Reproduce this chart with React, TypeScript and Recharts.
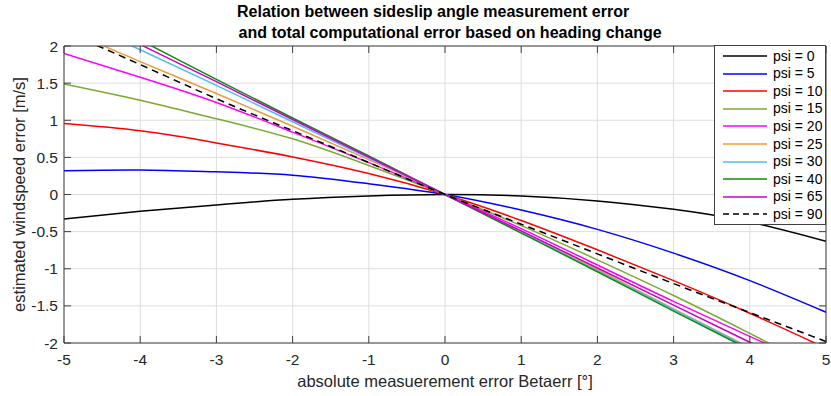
import React from 'react';
import { LineChart, Line, XAxis, YAxis, CartesianGrid, Legend } from 'recharts';

// absolute sideslip angle measurement error Betaerr [°]
const betaErr = [-5, -4, -3, -2, -1, 0, 1, 2, 3, 4, 5];

// estimated windspeed error [m/s] for each heading change psi
const psi0 = [-0.33, -0.227, -0.14, -0.065, -0.02, 0, -0.02, -0.086, -0.2, -0.37, -0.63];
const psi5 = [0.32, 0.33, 0.305, 0.26, 0.145, 0, -0.21, -0.47, -0.79, -1.16, -1.585];
const psi10 = [0.955, 0.857, 0.695, 0.506, 0.283, 0, -0.35, -0.745, -1.16, -1.6, -2.07];
const psi15 = [1.49, 1.27, 1.02, 0.75, 0.39, 0, -0.42, -0.88, -1.36, -1.87, -2.4];
const psi20 = [1.9, 1.58, 1.24, 0.84, 0.43, 0, -0.46, -0.95, -1.44, -1.91, -2.38];
const psi25 = [2.23, 1.79, 1.36, 0.92, 0.47, 0, -0.5, -1.01, -1.54, -2.06, -2.6];
const psi30 = [2.42, 1.95, 1.47, 0.98, 0.49, 0, -0.51, -1.03, -1.55, -2.07, -2.58];
const psi40 = [2.6, 2.08, 1.55, 1.03, 0.52, 0, -0.52, -1.04, -1.57, -2.09, -2.61];
const psi65 = [2.52, 2.02, 1.52, 1.01, 0.505, 0, -0.49, -0.99, -1.49, -1.99, -2.49];
const psi90 = [2.2, 1.75, 1.29, 0.86, 0.43, 0, -0.4, -0.8, -1.2, -1.59, -1.98];

const xTicks = [-5, -4, -3, -2, -1, 0, 1, 2, 3, 4, 5];
const yTicks = [-2, -1.5, -1, -0.5, 0, 0.5, 1, 1.5, 2];

const titleLines = [
  'Relation between sideslip angle measurement error',
  'and total computational error based on heading change',
];
const xLabel = 'absolute measuerement error Betaerr [°]';
const yLabel = 'estimated windspeed error [m/s]';

const series = [
  { key: 'psi0', name: 'psi = 0', values: psi0, color: '#000000', dash: undefined as string | undefined },
  { key: 'psi5', name: 'psi = 5', values: psi5, color: '#0000FF', dash: undefined },
  { key: 'psi10', name: 'psi = 10', values: psi10, color: '#FF0000', dash: undefined },
  { key: 'psi15', name: 'psi = 15', values: psi15, color: '#77AC30', dash: undefined },
  { key: 'psi20', name: 'psi = 20', values: psi20, color: '#FF00FF', dash: undefined },
  { key: 'psi25', name: 'psi = 25', values: psi25, color: '#EE9A3A', dash: undefined },
  { key: 'psi30', name: 'psi = 30', values: psi30, color: '#4DBEEE', dash: undefined },
  { key: 'psi40', name: 'psi = 40', values: psi40, color: '#0C8C0C', dash: undefined },
  { key: 'psi65', name: 'psi = 65', values: psi65, color: '#C800C8', dash: undefined },
  { key: 'psi90', name: 'psi = 90', values: psi90, color: '#000000', dash: '7 5' },
];

const data = betaErr.map((x, i) => {
  const row: Record<string, number> = { x };
  series.forEach((s) => {
    row[s.key] = s.values[i];
  });
  return row;
});

const FONT = '"Liberation Sans", Arial, Helvetica, sans-serif';
const AXIS_COLOR = '#404040';
const TEXT_COLOR = '#262626';
const TICK_LEN = 7;

const LeftTick = (props: any) => {
  const { x, y, payload } = props;
  return (
    <g>
      <line x1={x} x2={x + TICK_LEN} y1={y} y2={y} stroke={AXIS_COLOR} strokeWidth={1} />
      <text x={x - 6} y={y + 5.6} textAnchor="end" fontFamily={FONT} fontSize={15.5} fill={TEXT_COLOR}>
        {String(payload.value)}
      </text>
    </g>
  );
};

const BottomTick = (props: any) => {
  const { x, y, payload } = props;
  return (
    <g>
      <line x1={x} x2={x} y1={y} y2={y - TICK_LEN} stroke={AXIS_COLOR} strokeWidth={1} />
      <text x={x} y={y + 21.5} textAnchor="middle" fontFamily={FONT} fontSize={15.5} fill={TEXT_COLOR}>
        {String(payload.value)}
      </text>
    </g>
  );
};

const TopTick = (props: any) => {
  const { x, y } = props;
  return <line x1={x} x2={x} y1={y} y2={y + TICK_LEN} stroke={AXIS_COLOR} strokeWidth={1} />;
};

const RightTick = (props: any) => {
  const { x, y } = props;
  return <line x1={x} x2={x - TICK_LEN} y1={y} y2={y} stroke={AXIS_COLOR} strokeWidth={1} />;
};

const XLabel = (props: any) => {
  const vb = props.viewBox || {};
  return (
    <text x={vb.x + vb.width / 2} y={vb.y + 43.5} textAnchor="middle" fontFamily={FONT} fontSize={16.5} fill={TEXT_COLOR}>
      {xLabel}
    </text>
  );
};

const YLabel = (props: any) => {
  const vb = props.viewBox || {};
  const cy = vb.y + vb.height / 2;
  return (
    <text transform={`translate(25, ${cy}) rotate(-90)`} x={0} y={0} textAnchor="middle" fontFamily={FONT} fontSize={16.5} fill={TEXT_COLOR}>
      {yLabel}
    </text>
  );
};

const LegendBox = () => (
  <div
    style={{
      boxSizing: 'border-box',
      width: 112,
      height: 180,
      border: `1px solid ${AXIS_COLOR}`,
      background: '#fff',
      paddingTop: 1.5,
      fontFamily: FONT,
      fontSize: 14,
      color: '#000',
    }}
  >
    {series.map((s) => (
      <div key={s.key} style={{ display: 'flex', alignItems: 'center', height: 17.55 }}>
        <svg width={44} height={6} style={{ marginLeft: 8, marginRight: 6, display: 'block' }}>
          <line x1={0} x2={44} y1={3} y2={3} stroke={s.color} strokeWidth={1.5} strokeDasharray={s.dash ? '6 4' : undefined} />
        </svg>
        <span style={{ lineHeight: '17px', whiteSpace: 'nowrap' }}>{s.name}</span>
      </div>
    ))}
  </div>
);

export default function App() {
  return (
    <div style={{ position: 'absolute', left: 0, top: 0, width: 831, height: 396, background: '#fff' }}>
      <svg width={831} height={44} style={{ position: 'absolute', left: 0, top: 0 }}>
        <text x={237} y={16.5} textAnchor="start" fontFamily={FONT} fontSize={16} fontWeight="bold" fill="#000">
          {titleLines[0]}
        </text>
        <text x={238.5} y={38} textAnchor="start" fontFamily={FONT} fontSize={16} fontWeight="bold" fill="#000">
          {titleLines[1]}
        </text>
      </svg>
      <LineChart width={831} height={396} data={data} margin={{ top: 45, right: 4, bottom: 0, left: 0 }}>
        <CartesianGrid stroke="#dedede" strokeWidth={1} />
        <XAxis
          dataKey="x"
          type="number"
          domain={[-5, 5]}
          ticks={xTicks}
          allowDataOverflow
          height={53}
          tickSize={0}
          tickMargin={0}
          tickLine={false}
          axisLine={{ stroke: AXIS_COLOR, strokeWidth: 1 }}
          tick={BottomTick}
          interval={0}
          label={XLabel}
        />
        <XAxis
          xAxisId="top"
          orientation="top"
          dataKey="x"
          type="number"
          domain={[-5, 5]}
          ticks={xTicks}
          allowDataOverflow
          height={1}
          tickSize={0}
          tickMargin={0}
          tickLine={false}
          axisLine={{ stroke: AXIS_COLOR, strokeWidth: 1 }}
          tick={TopTick}
          interval={0}
        />
        <YAxis
          type="number"
          domain={[-2, 2]}
          ticks={yTicks}
          allowDataOverflow
          width={64}
          tickSize={0}
          tickMargin={0}
          tickLine={false}
          axisLine={{ stroke: AXIS_COLOR, strokeWidth: 1 }}
          tick={LeftTick}
          interval={0}
          label={YLabel}
        />
        <YAxis
          yAxisId="right"
          orientation="right"
          type="number"
          domain={[-2, 2]}
          ticks={yTicks}
          allowDataOverflow
          width={1}
          tickSize={0}
          tickMargin={0}
          tickLine={false}
          axisLine={{ stroke: AXIS_COLOR, strokeWidth: 1 }}
          tick={RightTick}
          interval={0}
        />
        {series.map((s) => (
          <Line
            key={s.key}
            dataKey={s.key}
            name={s.name}
            type="natural"
            stroke={s.color}
            strokeWidth={1.5}
            strokeDasharray={s.dash}
            dot={false}
            activeDot={false}
            isAnimationActive={false}
          />
        ))}
        <Legend
          layout="vertical"
          align="center"
          verticalAlign="middle"
          wrapperStyle={{ position: 'absolute', top: 45, left: 714, width: 112, height: 180 }}
          content={<LegendBox />}
        />
      </LineChart>
    </div>
  );
}
